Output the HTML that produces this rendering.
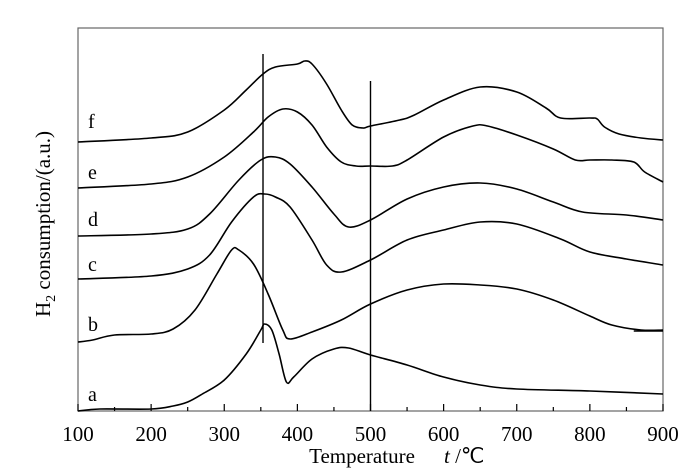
<!DOCTYPE html>
<html><head><meta charset="utf-8"><style>
body{margin:0;background:#fff}
svg{display:block}
text{font-family:"Liberation Serif",serif;fill:#000}
</style></head><body>
<svg id="chart" width="700" height="472" viewBox="0 0 700 472"></svg>
<script>
const xTicks=[100,200,300,400,500,600,700,800,900];
const minorTicks=[150,250,350,450,550,650,750,850];
const seriesNames=["a","b","c","d","e","f"];
const tA=[100,130,200,230,250,270,300,330,350,355,365,375,385,395,420,450,470,500,550,600,650,700,800,900];
const vA=[0,2,2,5,9,17,31,57,81,87,81,57,29,34,52,62,63,56,46,34,26,22,20,17];
const tB=[100,120,150,200,230,260,290,310,320,340,360,380,390,420,460,500,550,600,650,700,750,800,830,870,900];
const vB=[69,71,76,77,82,101,137,161,161,147,117,81,72,79,91,107,121,127,126,122,111,95,86,81,81];
const tC=[100,200,250,280,310,340,355,370,390,420,440,460,500,550,600,650,700,760,800,850,900];
const vC=[132,135,142,156,189,214,217,214,204,171,146,139,151,171,181,189,187,172,159,152,146];
const tD=[100,200,250,280,320,350,370,390,420,450,470,500,550,600,650,700,750,790,850,900];
const vD=[175,177,182,197,231,251,254,247,224,197,184,191,212,224,228,222,209,199,196,191];
const tE=[100,200,250,300,340,360,380,400,420,440,460,480,500,530,550,600,640,660,700,750,780,800,830,860,875,900];
const vE=[223,227,234,254,279,294,302,299,286,264,249,245,245,245,251,274,285,285,276,262,251,251,251,249,239,229];
const tF=[100,200,250,300,330,353,370,400,410,420,440,460,475,490,500,540,560,600,650,700,740,760,800,810,820,840,870,900];
const vF=[269,273,279,301,321,337,344,347,350,347,327,301,286,283,285,291,296,311,324,319,303,293,293,292,284,277,273,271];
const refLines=[353,500];
const labelValues=[16,86,146,191,238,289];

const svg=document.getElementById('chart');
const NS='http://www.w3.org/2000/svg';
const X0=78,X1=663,Y0=411,Y1=28;
function xs(t){return X0+(t-100)/800*(X1-X0);}
function ys(v){return Y0-v*(Y0-Y1)/383;}
function mk(tag,attrs,parent){const e=document.createElementNS(NS,tag);for(const k in attrs)e.setAttribute(k,attrs[k]);(parent||svg).appendChild(e);return e;}
function smooth(pts){let d='M'+pts[0][0].toFixed(1)+','+pts[0][1].toFixed(1);
 for(let i=0;i<pts.length-1;i++){const p0=pts[Math.max(0,i-1)],p1=pts[i],p2=pts[i+1],p3=pts[Math.min(pts.length-1,i+2)];
 const c1=[p1[0]+(p2[0]-p0[0])/6,p1[1]+(p2[1]-p0[1])/6],c2=[p2[0]-(p3[0]-p1[0])/6,p2[1]-(p3[1]-p1[1])/6];
 d+='C'+c1[0].toFixed(1)+','+c1[1].toFixed(1)+' '+c2[0].toFixed(1)+','+c2[1].toFixed(1)+' '+p2[0].toFixed(1)+','+p2[1].toFixed(1);}
 return d;}

const frame=mk('rect',{x:X0,y:Y1,width:X1-X0,height:Y0-Y1,fill:'none',stroke:'#666','stroke-width':1.2});



xTicks.forEach(t=>{
 const l=mk('line',{x1:xs(t),x2:xs(t),y1:Y0,y2:Y0-7,stroke:'#000','stroke-width':1.2});
 
 
 const tx=mk('text',{x:xs(t),y:441,'font-size':21,'text-anchor':'middle'});
 tx.textContent=t;
 
 
});
minorTicks.forEach(t=>{
 const l=mk('line',{x1:xs(t),x2:xs(t),y1:Y0,y2:Y0-4,stroke:'#000','stroke-width':1.2});
 
 
});

const series=[[tA,vA],[tB,vB],[tC,vC],[tD,vD],[tE,vE],[tF,vF]];
series.forEach((s,i)=>{
 const pts=s[0].map((t,j)=>[xs(t),ys(s[1][j])]);
 const p=mk('path',{d:smooth(pts),fill:'none',stroke:'#000','stroke-width':1.6});
 
 
 const lb=mk('text',{x:88,y:ys(labelValues[i])+6,'font-size':20});
 lb.textContent=seriesNames[i];
 
 
});
const dash=mk('line',{x1:xs(860),x2:xs(900),y1:ys(80),y2:ys(80),stroke:'#000','stroke-width':1.6});



const refTop=[357,330];
refLines.forEach((t,i)=>{
 const l=mk('line',{x1:xs(t),x2:xs(t),y1:ys(refTop[i]),y2:i===0?ys(68):Y0,stroke:'#000','stroke-width':1.4});
 
 
});

const yt=mk('text',{x:0,y:0,'font-size':21,'text-anchor':'middle',transform:'translate(50,224) rotate(-90)'});
yt.innerHTML='H<tspan font-size="14" dy="5">2</tspan><tspan dy="-5"> consumption/(a.u.)</tspan>';


const xt=mk('text',{x:362,y:463,'font-size':21,'text-anchor':'middle'});
xt.textContent='Temperature';


const xu=mk('text',{x:444,y:463,'font-size':21});
xu.innerHTML='<tspan font-style="italic">t</tspan> /℃';


</script>
</body></html>
